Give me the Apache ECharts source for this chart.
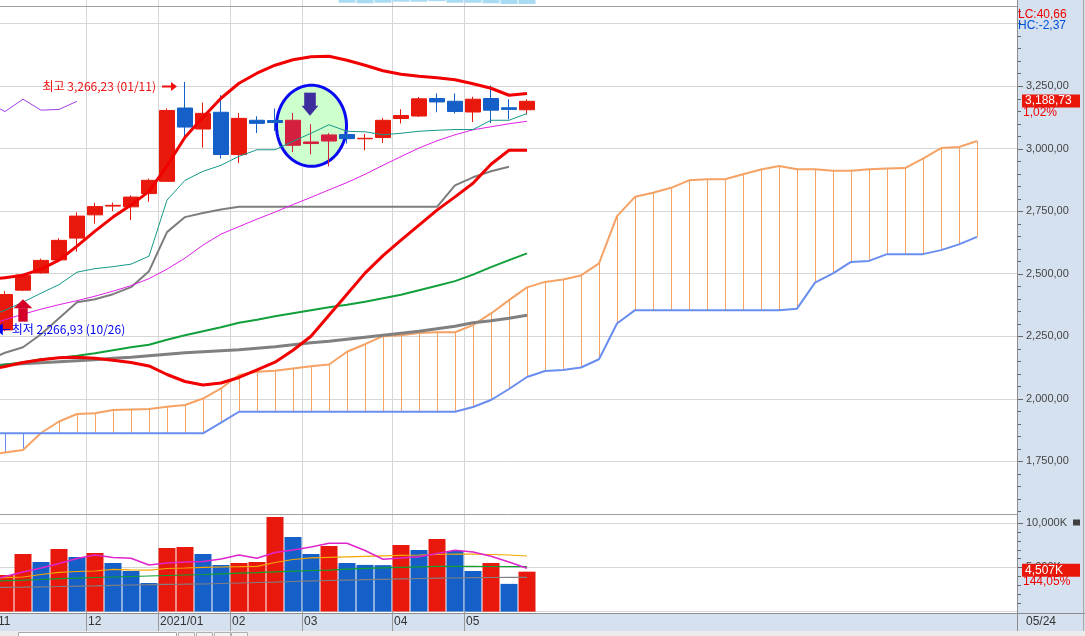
<!DOCTYPE html>
<html><head><meta charset="utf-8">
<script src="https://cdn.jsdelivr.net/npm/echarts@6/dist/echarts.min.js"></script>
<style>html,body{margin:0;padding:0;background:#fff;overflow:hidden}#c{width:1085px;height:636px}</style>
</head><body><div id="c"></div>
<script>
// ---------------- DATA ----------------
const weeks = ['2020/11/02','2020/11/09','2020/11/16','2020/11/23','2020/11/30','2020/12/07','2020/12/14','2020/12/21','2020/12/28',
 '2021/01/04','2021/01/11','2021/01/18','2021/01/25','2021/02/01','2021/02/08','2021/02/15','2021/02/22',
 '2021/03/01','2021/03/08','2021/03/15','2021/03/22','2021/03/29','2021/04/05','2021/04/12','2021/04/19','2021/04/26',
 '2021/05/03','2021/05/10','2021/05/17','2021/05/24'];
// [open, close, low, high]
const ohlc = [
 [2275,2416.5,2270,2430],[2434,2494,2430,2500],[2503,2553,2500,2560],[2555,2633,2553,2642],[2642,2730,2588,2745],
 [2735,2768,2700,2783],[2770,2773,2750,2784],[2767,2806,2714,2813],[2820,2873,2787,2880],[2869,3152.2,2869,3161],
 [3162,3085.9,3040,3266.23],[3078,3140.6,3004,3184],[3145,2976.2,2960,3213],[2976,3120.6,2942,3142],[3113,3100.6,3062,3129],
 [3112,3104,3070,3160],[3113,3013,2986,3142],[3020,3026.3,2977,3097],[3030,3054.4,2929,3062],[3056,3039.5,3020,3073],
 [3039,3041,2993,3058],[3044,3112.8,3022,3122],[3120,3131.9,3100,3157],[3130,3198.8,3126,3206],[3200,3186.1,3145,3220],
 [3189,3147.9,3140,3220],[3146,3197.2,3106,3207],[3200,3153.3,3102,3252],[3163,3156.4,3117,3197],[3155,3188.73,3136,3197]
];
// volume in thousands, and whether the bar is an "up" (red) bar
const volume = [4131,6501,5598,7066,6163,6614,5486,4582,3228,7179,7292,6501,5260,5486,5598,10678,8420,6501,7404,5486,5270,5240,7517,6953,8194,6840,4582,5486,3128.8,4507];
const volumeUp = [1,1,0,1,0,1,0,0,0,1,1,0,0,1,1,1,0,0,1,0,0,0,1,0,1,0,0,1,0,1];

// indicator lines, first value is the (off-screen) week before the first candle
const LINE_START = -1;
const bollUpper = [2474,2484,2494,2518,2554,2610,2670,2726,2774,2829,2931,3045,3125,3201,3261,3301,3333,3355,3367,3369,3353,3333,3311,3297,3289,3283,3275,3259,3241,3213,3220];
const bollLower = [2115,2129,2145,2156,2164,2166,2162,2154,2145,2131,2097,2069,2055,2063,2085,2115,2146,2194,2250,2334,2418,2502,2572,2634,2694,2754,2807,2861,2937,2993,2993];
const ma20 = [2290,2316,2338,2358,2376,2392,2410,2430,2452,2480,2518,2562,2614,2658,2688,2718,2746,2776,2805,2835,2864,2897,2933,2968,3002,3031,3055,3075,3087,3099,3109];
const conversionLine = [2326,2354,2386,2422,2456,2506,2520,2528,2538,2570,2794,2873,2909,2933,2969,2995,2995,3029,3061,3095,3069,3067,3055,3061,3069,3073,3076,3076,3113,3113,3140];
const baseLine = [2154,2184,2206,2258,2322,2386,2398,2418,2446,2510,2666,2726,2742,2756,2767,2767,2767,2767,2767,2767,2767,2767,2767,2767,2767,2767,2853,2885,2909,2927];
const ma60 = [2126,2136,2146,2158,2164,2172,2182,2194,2206,2216,2236,2254,2270,2286,2304,2316,2330,2342,2354,2366,2376,2388,2402,2416,2434,2452,2470,2496,2526,2554,2581];
const ma120 = [2130,2136,2140,2144,2148,2152,2156,2162,2166,2172,2178,2184,2188,2192,2196,2202,2208,2216,2224,2230,2238,2246,2254,2262,2270,2280,2290,2304,2312,2322,2334];
// Ichimoku cloud, from the week before the first candle to 25 weeks ahead
const CLOUD_START = -1;
const leadSpan1 = [1775,1785,1795,1863,1909,1939,1942,1955,1957,1959,1968,1975,2001,2041,2095,2108,2112,2121,2130,2137,2188,2218,2250,2254,2263,2266,2266,2294,2341,2394,2445,2467,2477,2493,2541,2730,2807,2823,2843,2873,2877,2877,2897,2916,2930,2917,2917,2911,2911,2917,2920,2922,2960,3002,3006,3030];
const leadSpan2 = [1862,1862,1862,1862,1862,1862,1862,1862,1862,1862,1862,1862,1862,1905,1948,1948,1948,1948,1948,1948,1948,1948,1948,1948,1948,1948,1948,1967,1995,2039,2087,2111,2115,2125,2158,2301,2354,2354,2354,2354,2354,2354,2354,2354,2354,2360,2464,2501,2547,2551,2578,2578,2578,2594,2617,2647];
const LAG_SHIFT = 25;
// volume moving averages
const volMa5 = [3454,3962,4470,4921,5429,5993,6388,6106,6016,5260,5485,5598,5655,5937,6388,6016,6671,6953,7291,7709,7709,6896,5903,6050,6197,6558,6919,6727,6242,5598,4887];
const volMa20 = [3792,3826,3905,4187,4436,4526,4582,4774,4718,4673,4865,4921,5000,5034,5068,5113,5542,5881,6072,6129,6185,6242,6298,6355,6388,6445,6501,6479,6445,6388,6276];
const volMa60 = [3454,3488,3544,3623,3713,3770,3849,3905,3962,4018,4075,4131,4187,4266,4334,4402,4492,4560,4639,4673,4786,4887,4944,5000,5057,5113,5113,5102,5090,5079,5068];
const volMa120 = [2720,2743,2765,2799,2833,2878,2912,2957,3002,3036,3081,3093,3115,3172,3228,3285,3318,3397,3465,3510,3555,3601,3646,3691,3736,3770,3792,3826,3849,3860,3871];
// strip of the panel above (only its bottom is visible)
const STRIP_START = 19;
const stripBars = [2.7,3.3,2.7,1.7,1.7,1.2,2.7,2.7,3.3,4,4];
// axis ticks
const priceLabels = [1750,2000,2250,2500,2750,3000,3250];
const priceGrid = [1750,2000,2250,2500,2750,3000,3250,3500];
const PRICE_MINOR_STEP = 50;
const volLabels = [5000,10000];
const VOL_MINOR_STEP = 1000;
const highMark = {index:10, value:3266.23, date:'01/11'};
const lowMark = {index:-1, value:2266.93, date:'10/26'};
const lcText = 'LC:40,66', hcText = 'HC:-2,37';
const signalWeek = 17, buyWeek = 1;

// ---------------- LAYOUT ----------------
const XMIN = -5/18, XMAX = 1012/18;
const PMIN = 1537.4, PMAX = 3567.7, VMAX = 10959;
const RED = '#E8190C', BLUE = '#1460C8', GRIDC = '#D6D6D6';
const NUMF = "'Liberation Sans', Arial, sans-serif";
const KRF = "'Noto Sans CJK KR', sans-serif";

function fmtNum(v, d){ const s = v.toFixed(d); const p = s.split('.'); const ii = p[0].replace(/\B(?=(\d{3})+(?!\d))/g, ','); return p[1] ? ii + ',' + p[1] : ii; }

const monthMarks = [];
weeks.forEach((w, i) => {
  const [y, m] = w.split('/');
  if (i === 0) { monthMarks.push({pos: i - 0.5, label: m}); return; }
  const [py, pm] = weeks[i-1].split('/');
  if (pm !== m) monthMarks.push({pos: i - 0.5, label: py !== y ? y + '/' + m : m});
});
const monthPos = monthMarks.map(m => m.pos);
const labelOf = v => { const m = monthMarks.find(mm => Math.abs(mm.pos - v) < 1e-6); return m ? m.label : ''; };

const withIdx = (arr, start) => arr.map((v, k) => [k + start, v]);

const chart = echarts.init(document.getElementById('c'), null, {renderer: 'canvas', width: 1085, height: 636});

function gridLineSeries(xi, yi, ys) {
  return {type: 'line', xAxisIndex: xi, yAxisIndex: yi, data: [], silent: true,
    markLine: {silent: true, z: 1, symbol: ['none','none'], animation: false, label: {show: false},
      emphasis: {disabled: true}, lineStyle: {color: GRIDC, width: 1, type: 'solid'},
      data: [...ys.map(v => ({yAxis: v})), ...monthPos.map(p => ({xAxis: p}))]}};
}
function lineSeries(arr, start, color, width, z, xi, yi) {
  return {type: 'line', xAxisIndex: xi || 0, yAxisIndex: yi || 0, data: withIdx(arr, start), showSymbol: false,
    symbol: 'none', clip: true, z: z, silent: true, lineStyle: {color: color, width: width}, emphasis: {disabled: true}};
}

const option = {
  animation: false,
  backgroundColor: '#ffffff',
  grid: [
    {left: 0, top: 6.5, width: 1017, height: 508},
    {left: 0, top: 514.5, width: 1017, height: 97.1},
    {left: 0, top: 0, width: 1017, height: 6.5}
  ],
  xAxis: [
    {type: 'value', gridIndex: 0, min: XMIN, max: XMAX, show: false},
    {type: 'value', gridIndex: 1, min: XMIN, max: XMAX, z: 9, axisLine: {show: false}, splitLine: {show: false},
      axisTick: {show: true, customValues: monthPos, length: 19.5, lineStyle: {color: '#999'}},
      axisLabel: {show: true, customValues: monthPos, formatter: v => labelOf(v), align: 'left', margin: 4,
        padding: [0,0,0,2], color: '#333', fontSize: 12, fontFamily: NUMF}},
    {type: 'value', gridIndex: 2, min: XMIN, max: XMAX, show: false}
  ],
  yAxis: [
    {type: 'value', gridIndex: 0, position: 'right', min: PMIN, max: PMAX, z: 9, axisLine: {show: false}, splitLine: {show: false},
      axisTick: {show: false},
      axisLabel: {show: true, customValues: priceLabels, formatter: v => fmtNum(v, 2), margin: 9, color: '#444', fontSize: 11, fontFamily: NUMF}},
    {type: 'value', gridIndex: 1, position: 'right', min: 0, max: VMAX, z: 9, axisLine: {show: false}, splitLine: {show: false},
      axisTick: {show: false},
      axisLabel: {show: true, customValues: volLabels, formatter: v => fmtNum(v, 0) + 'K', margin: 9, color: '#444', fontSize: 11, fontFamily: NUMF}},
    {type: 'value', gridIndex: 2, min: 0, max: 6.5, inverse: true, show: false}
  ],
  series: [
    gridLineSeries(0, 0, priceGrid),
    gridLineSeries(1, 1, [0, 5000, 10000]),
    gridLineSeries(2, 2, []),
    {type: 'bar', xAxisIndex: 2, yAxisIndex: 2, z: 4, barWidth: 17, silent: true,
      data: withIdx(stripBars, STRIP_START), itemStyle: {color: '#A9DCF2'}},
    // cloud hatch
    {type: 'custom', xAxisIndex: 0, yAxisIndex: 0, z: 2, clip: true, silent: true,
      data: leadSpan1.map((v, k) => [k + CLOUD_START, v, leadSpan2[k]]),
      encode: {x: 0, y: [1, 2]},
      renderItem: (params, api) => {
        const x = api.value(0), a = api.value(1), b = api.value(2);
        const p1 = api.coord([x, a]), p2 = api.coord([x, b]);
        const xx = Math.round(p1[0]) + 0.5;
        return {type: 'line', shape: {x1: xx, y1: p1[1], x2: xx, y2: p2[1]},
          style: {stroke: a >= b ? '#F5A264' : '#6A8EF0', lineWidth: 1}};
      }},
    lineSeries(leadSpan1, CLOUD_START, '#F5A264', 2, 2),
    lineSeries(leadSpan2, CLOUD_START, '#6A8EF0', 2, 2),
    // candles
    {type: 'candlestick', xAxisIndex: 0, yAxisIndex: 0, z: 4, barWidth: 16, silent: true,
      encode: {x: 0, y: [1, 2, 3, 4]},
      data: ohlc.map((d, i) => {
        const item = {value: [i, d[0], d[1], d[2], d[3]]};
        if (i >= 16 && i <= 18) item.itemStyle = {color: '#D4203E', borderColor: '#D4203E', color0: '#2A5CF2', borderColor0: '#2A5CF2'};
        return item;
      }),
      itemStyle: {color: RED, color0: BLUE, borderColor: RED, borderColor0: BLUE, borderWidth: 1}},
    // volume
    {type: 'bar', xAxisIndex: 1, yAxisIndex: 1, z: 4, barWidth: 17, silent: true,
      data: volume.map((v, i) => ({value: [i, v], itemStyle: {color: volumeUp[i] ? RED : BLUE}}))},
    // price indicator lines
    {type: 'line', xAxisIndex: 0, yAxisIndex: 0, z: 5, silent: true, showSymbol: false, symbol: 'none', clip: true,
      data: ohlc.slice(LAG_SHIFT - 1).map((d, k) => [k + LAG_SHIFT - 1 - LAG_SHIFT, d[1]]),
      lineStyle: {color: '#A23CE6', width: 1}},
    lineSeries(ma120, LINE_START, '#808080', 3, 5),
    lineSeries(ma60, LINE_START, '#12A03C', 2, 5),
    lineSeries(baseLine, LINE_START, '#7D7D7D', 2, 5),
    lineSeries(ma20, LINE_START, '#E020E8', 1, 5),
    lineSeries(conversionLine, LINE_START, '#17998A', 1, 5),
    lineSeries(bollLower, LINE_START, '#F20000', 3, 6),
    lineSeries(bollUpper, LINE_START, '#F20000', 3, 6),
    // volume averages
    lineSeries(volMa120, LINE_START, '#808080', 1.2, 5, 1, 1),
    lineSeries(volMa60, LINE_START, '#10A030', 1.2, 5, 1, 1),
    lineSeries(volMa20, LINE_START, '#F2A800', 1.2, 5, 1, 1),
    lineSeries(volMa5, LINE_START, '#E024CC', 1.5, 5, 1, 1)
  ]
};
chart.setOption(option);

// ---------------- ANNOTATIONS (positioned through the chart's scales) ----------------
const px = (gi, x, y) => chart.convertToPixel({gridIndex: gi}, [x, y]);
const g = [];
// backgrounds & frames
g.push({type: 'rect', z: 0, silent: true, shape: {x: 1017, y: 0, width: 68, height: 613}, style: {fill: '#D5E1EE'}});
g.push({type: 'rect', z: 0, silent: true, shape: {x: 0, y: 613, width: 1085, height: 18}, style: {fill: '#D5E1EE'}});
g.push({type: 'rect', z: 0, silent: true, shape: {x: 0, y: 631, width: 1085, height: 5}, style: {fill: '#ECECEC'}});
g.push({type: 'rect', z: 1, silent: true, shape: {x: 18.5, y: 632.5, width: 158, height: 6}, style: {fill: '#fff', stroke: '#A8A8A8', lineWidth: 1}});
[178, 196, 214, 231].forEach(x => g.push({type: 'rect', z: 1, silent: true, shape: {x: x + 0.5, y: 632.5, width: 16, height: 6}, style: {fill: '#F4F4F4', stroke: '#B0B0B0', lineWidth: 1}}));
const frame = (x1, y1, x2, y2, c) => g.push({type: 'line', z: 8, silent: true, shape: {x1, y1, x2, y2}, style: {stroke: c, lineWidth: 1}});
frame(0, 6.5, 1017, 6.5, '#A0A0A0');
frame(0, 514.5, 1017, 514.5, '#A0A0A0');
frame(0, 613.5, 1085, 613.5, '#8C8C8C');
frame(1017.5, 0, 1017.5, 631, '#8C8C8C');
frame(1083.5, 0, 1083.5, 631, '#A8A8A8');

// axis tick marks on the right scales
const tick = (gi, v, len) => { const p = px(gi, 0, v); const y = Math.round(p[1]) + 0.5; if (y < 7 || (gi === 1 && y < 515)) return;
  g.push({type: 'line', z: 9, silent: true, shape: {x1: 1018, y1: y, x2: 1018 + len, y2: y}, style: {stroke: '#666', lineWidth: 1}}); };
for (let v = Math.ceil(PMIN / PRICE_MINOR_STEP) * PRICE_MINOR_STEP; v <= PMAX; v += PRICE_MINOR_STEP) tick(0, v, priceLabels.includes(v) ? 5 : 3);
for (let v = VOL_MINOR_STEP; v <= VMAX; v += VOL_MINOR_STEP) tick(1, v, volLabels.includes(v) ? 5 : 3);

// first month label (its boundary lies just left of the plot)
const m0 = px(1, monthMarks[0].pos, 0);
g.push({type: 'text', z: 9, silent: true, style: {x: m0[0] + 2, y: 622, text: monthMarks[0].label, fill: '#333', font: '12px ' + NUMF, textVerticalAlign: 'middle'}});

// ellipse highlight
const ec = px(0, signalWeek, 3091);
const pts = [];
for (let k = 0; k < 96; k++) { const t = k / 96 * Math.PI * 2; pts.push([ec[0] + 0.5 + 35 * Math.cos(t), ec[1] + 40.5 * Math.sin(t)]); }
g.push({type: 'polygon', z: 3, silent: true, shape: {points: pts}, style: {fill: '#CCFFCC', stroke: '#0A0AF2', lineWidth: 3}});

// down arrow above the signal week
const sh = px(0, signalWeek, ohlc[signalWeek][3]);
const dx = sh[0] - 1, dt = sh[1] - 8.6;
g.push({type: 'rect', z: 7, silent: true, shape: {x: dx - 5.8, y: dt - 23, width: 11.6, height: 13.4}, style: {fill: '#3D2C9E'}});
g.push({type: 'polygon', z: 7, silent: true, shape: {points: [[dx - 8.4, dt - 9.8], [dx + 8.4, dt - 9.8], [dx, dt]]}, style: {fill: '#3D2C9E'}});

// up arrow below the buy week
const bl = px(0, buyWeek, ohlc[buyWeek][2]);
const ux = bl[0], ut = bl[1] + 8;
g.push({type: 'polygon', z: 7, silent: true, shape: {points: [[ux - 9.4, ut + 9.2], [ux + 9.4, ut + 9.2], [ux, ut]]}, style: {fill: '#D4002A'}});
g.push({type: 'rect', z: 7, silent: true, shape: {x: ux - 4.7, y: ut + 9, width: 9.4, height: 13.5}, style: {fill: '#D4002A'}});

// highest label
const hp = px(0, highMark.index, highMark.value);
const hy = hp[1] + 4.4;
g.push({type: 'text', z: 7, silent: true, style: {x: hp[0] - 29, y: hy, text: '최고 ' + fmtNum(highMark.value, 2) + ' (' + highMark.date + ')',
  fill: '#F01010', font: '12px ' + KRF, textAlign: 'right', textVerticalAlign: 'middle'}});
g.push({type: 'line', z: 7, silent: true, shape: {x1: hp[0] - 23, y1: Math.round(hy) + 0.5, x2: hp[0] - 11, y2: Math.round(hy) + 0.5}, style: {stroke: '#F01010', lineWidth: 2}});
g.push({type: 'polygon', z: 7, silent: true, shape: {points: [[hp[0] - 14, Math.round(hy) + 0.5 - 4.5], [hp[0] - 8, Math.round(hy) + 0.5], [hp[0] - 14, Math.round(hy) + 0.5 + 4.5]]}, style: {fill: '#F01010'}});

// lowest label (its candle lies just off the left edge)
const lp = px(0, lowMark.index, lowMark.value);
const ly = lp[1] - 2.7;
g.push({type: 'polygon', z: 7, silent: true, shape: {points: [[lp[0] + 8, ly], [lp[0] + 15.8, ly - 6], [lp[0] + 15.8, ly + 6]]}, style: {fill: '#0000F0'}});
g.push({type: 'line', z: 7, silent: true, shape: {x1: lp[0] + 15, y1: Math.round(ly) + 0.5, x2: lp[0] + 23, y2: Math.round(ly) + 0.5}, style: {stroke: '#0000F0', lineWidth: 1}});
g.push({type: 'text', z: 7, silent: true, style: {x: lp[0] + 24.7, y: ly, text: '최저 ' + fmtNum(lowMark.value, 2) + ' (' + lowMark.date + ')',
  fill: '#0000F0', font: '12px ' + KRF, textAlign: 'left', textVerticalAlign: 'middle'}});

// right-side texts
g.push({type: 'text', z: 10, silent: true, style: {x: 1018, y: 14.5, text: lcText, fill: '#F00000', font: '12px ' + NUMF, textVerticalAlign: 'middle'}});
g.push({type: 'text', z: 10, silent: true, style: {x: 1018, y: 25.5, text: hcText, fill: '#0050D8', font: '12px ' + NUMF, textVerticalAlign: 'middle'}});
const last = ohlc[ohlc.length - 1], prev = ohlc[ohlc.length - 2];
const cp = px(0, ohlc.length - 1, last[1]);
g.push({type: 'rect', z: 10, silent: true, shape: {x: 1022, y: cp[1] - 6.8, width: 58, height: 13}, style: {fill: '#E8170A'}});
g.push({type: 'text', z: 11, silent: true, style: {x: 1025, y: cp[1] - 0.3, text: fmtNum(last[1], 2), fill: '#fff', font: '12px ' + NUMF, textVerticalAlign: 'middle'}});
g.push({type: 'text', z: 11, silent: true, style: {x: 1023, y: cp[1] + 11.5, text: fmtNum((last[1] / prev[1] - 1) * 100, 2) + '%', fill: '#F00000', font: '12px ' + NUMF, textVerticalAlign: 'middle'}});
const lv = volume[volume.length - 1], pv = volume[volume.length - 2];
const vp = px(1, volume.length - 1, lv);
g.push({type: 'rect', z: 10, silent: true, shape: {x: 1022, y: vp[1] - 7.8, width: 58, height: 13}, style: {fill: '#E8170A'}});
g.push({type: 'text', z: 11, silent: true, style: {x: 1025, y: vp[1] - 1.3, text: fmtNum(lv, 0) + 'K', fill: '#fff', font: '12px ' + NUMF, textVerticalAlign: 'middle'}});
g.push({type: 'text', z: 11, silent: true, style: {x: 1023, y: vp[1] + 10, text: fmtNum(lv / pv * 100, 2) + '%', fill: '#F00000', font: '12px ' + NUMF, textVerticalAlign: 'middle'}});
g.push({type: 'rect', z: 10, silent: true, shape: {x: 1073, y: 519.5, width: 7, height: 6}, style: {fill: '#404040'}});
// current date in the axis band
const lastDate = weeks[weeks.length - 1].slice(5);
g.push({type: 'text', z: 11, silent: true, style: {x: 1026, y: 622, text: lastDate, fill: '#333', font: '12px ' + NUMF, textVerticalAlign: 'middle'}});

chart.setOption({graphic: {elements: g}});
</script>
</body></html>
